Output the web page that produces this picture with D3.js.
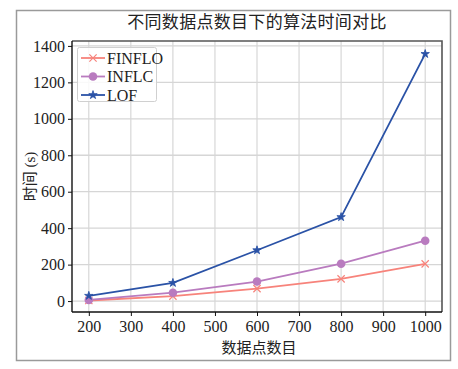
<!DOCTYPE html>
<html>
<head>
<meta charset="utf-8">
<script src="https://cdn.jsdelivr.net/npm/d3@7"></script>
<style>
  html, body { margin: 0; padding: 0; background: #fff; }
  svg text { font-family: "Liberation Serif", "Noto Sans CJK SC", serif; fill: #222; }
</style>
</head>
<body>
<div id="chart"></div>
<script>
const categories = [200, 400, 600, 800, 1000]
const finflo = [3, 27, 68, 122, 204]
const inflc = [6, 46, 107, 205, 331]
const lof = [29, 100, 279, 461, 1356]
const xTicks = [200, 300, 400, 500, 600, 700, 800, 900, 1000]
const yTicks = [0, 200, 400, 600, 800, 1000, 1200, 1400]

const series = [
  { name: 'FINFLO', values: finflo, color: '#f7837b', marker: 'x' },
  { name: 'INFLC', values: inflc, color: '#b97bbf', marker: 'circle' },
  { name: 'LOF', values: lof, color: '#2a52a6', marker: 'star' }
]

const W = 458, H = 369
const plot = { left: 72, right: 442, top: 41, bottom: 312 }

const svg = d3.select('#chart').append('svg')
  .attr('width', W).attr('height', H)

// outer frame
svg.append('rect')
  .attr('x', 16.5).attr('y', 10.5).attr('width', 434).attr('height', 350)
  .attr('fill', 'none').attr('stroke', '#9a9a9a').attr('stroke-width', 1.5)

const x = d3.scaleLinear().domain([160, 1040]).range([plot.left, plot.right])
const y = d3.scaleLinear().domain([-60, 1427]).range([plot.bottom, plot.top])

// grid
const grid = svg.append('g')
grid.selectAll('.gx').data(xTicks).join('line')
  .attr('x1', d => x(d)).attr('x2', d => x(d))
  .attr('y1', plot.top).attr('y2', plot.bottom)
  .attr('stroke', '#cfcfcf').attr('stroke-width', 1)
grid.selectAll('.gy').data(yTicks).join('line')
  .attr('x1', plot.left).attr('x2', plot.right)
  .attr('y1', d => y(d)).attr('y2', d => y(d))
  .attr('stroke', '#d6d6d6').attr('stroke-width', 1.3)

// top / right frame
svg.append('path')
  .attr('d', `M${plot.left},${plot.top}H${plot.right}V${plot.bottom}`)
  .attr('fill', 'none').attr('stroke', '#555').attr('stroke-width', 1.6)

// axes
const fmt = d3.format('d')
const xAxis = svg.append('g')
  .attr('transform', `translate(0,${plot.bottom})`)
  .call(d3.axisBottom(x).tickValues(xTicks).tickFormat(fmt).tickSize(4).tickPadding(5).tickSizeOuter(0))
const yAxis = svg.append('g')
  .attr('transform', `translate(${plot.left},0)`)
  .call(d3.axisLeft(y).tickValues(yTicks).tickFormat(fmt).tickSize(4).tickPadding(3).tickSizeOuter(0))
;[xAxis, yAxis].forEach(a => {
  a.select('.domain').attr('stroke', '#111').attr('stroke-width', 1.4)
  a.selectAll('.tick line').attr('stroke', '#111')
  a.selectAll('.tick text').attr('font-size', 16).attr('fill', '#222')
    .style('font-family', '"Liberation Serif", serif')
})
yAxis.select('.domain').attr('d', `M0,${plot.top}V${plot.bottom}`)
xAxis.select('.domain').attr('d', `M${plot.left},0H${plot.right}`)

// lines
const line = d3.line().x((d, i) => x(categories[i])).y(d => y(d))
const star = d3.symbol().type(d3.symbolStar).size(22)
const cross = d3.symbol().type(d3.symbolX).size(36)

function drawMarker(g, s, cx, cy) {
  if (s.marker === 'circle') {
    g.append('circle').attr('cx', cx).attr('cy', cy).attr('r', 4.3).attr('fill', s.color)
  } else if (s.marker === 'star') {
    g.append('path').attr('d', star()).attr('transform', `translate(${cx},${cy})`).attr('fill', s.color)
      .attr('stroke', s.color).attr('stroke-width', 0.8)
  } else {
    g.append('path').attr('d', cross()).attr('transform', `translate(${cx},${cy})`)
      .attr('fill', 'none').attr('stroke', s.color).attr('stroke-width', 1.2)
  }
}

series.forEach(s => {
  const g = svg.append('g')
  g.append('path').datum(s.values)
    .attr('d', line).attr('fill', 'none')
    .attr('stroke', s.color).attr('stroke-width', 1.8)
  s.values.forEach((v, i) => drawMarker(g, s, x(categories[i]), y(v)))
})

// legend
const lg = svg.append('g').attr('transform', 'translate(77,47)')
lg.append('rect').attr('x', 0.5).attr('y', 0.5).attr('width', 79).attr('height', 54).attr('rx', 2)
  .attr('fill', 'rgba(255,255,255,0.85)').attr('stroke', '#d0d0d0')
series.forEach((s, i) => {
  const cy = 11 + i * 18.5
  lg.append('line').attr('x1', 4).attr('x2', 28).attr('y1', cy).attr('y2', cy)
    .attr('stroke', s.color).attr('stroke-width', 1.8)
  drawMarker(lg, s, 16, cy)
  lg.append('text').attr('x', 30).attr('y', cy + 5.5).attr('font-size', 16).text(s.name)
})

// titles
svg.append('text').attr('x', 257).attr('y', 28).attr('text-anchor', 'middle')
  .attr('font-size', 17).attr('letter-spacing', 0.3).text('不同数据点数目下的算法时间对比')
svg.append('text').attr('x', 259).attr('y', 353).attr('text-anchor', 'middle')
  .attr('font-size', 15).text('数据点数目')
svg.append('text')
  .attr('transform', `translate(35,${(plot.top + plot.bottom) / 2}) rotate(-90)`)
  .attr('text-anchor', 'middle').attr('font-size', 15).text('时间 (s)')
</script>
</body>
</html>
